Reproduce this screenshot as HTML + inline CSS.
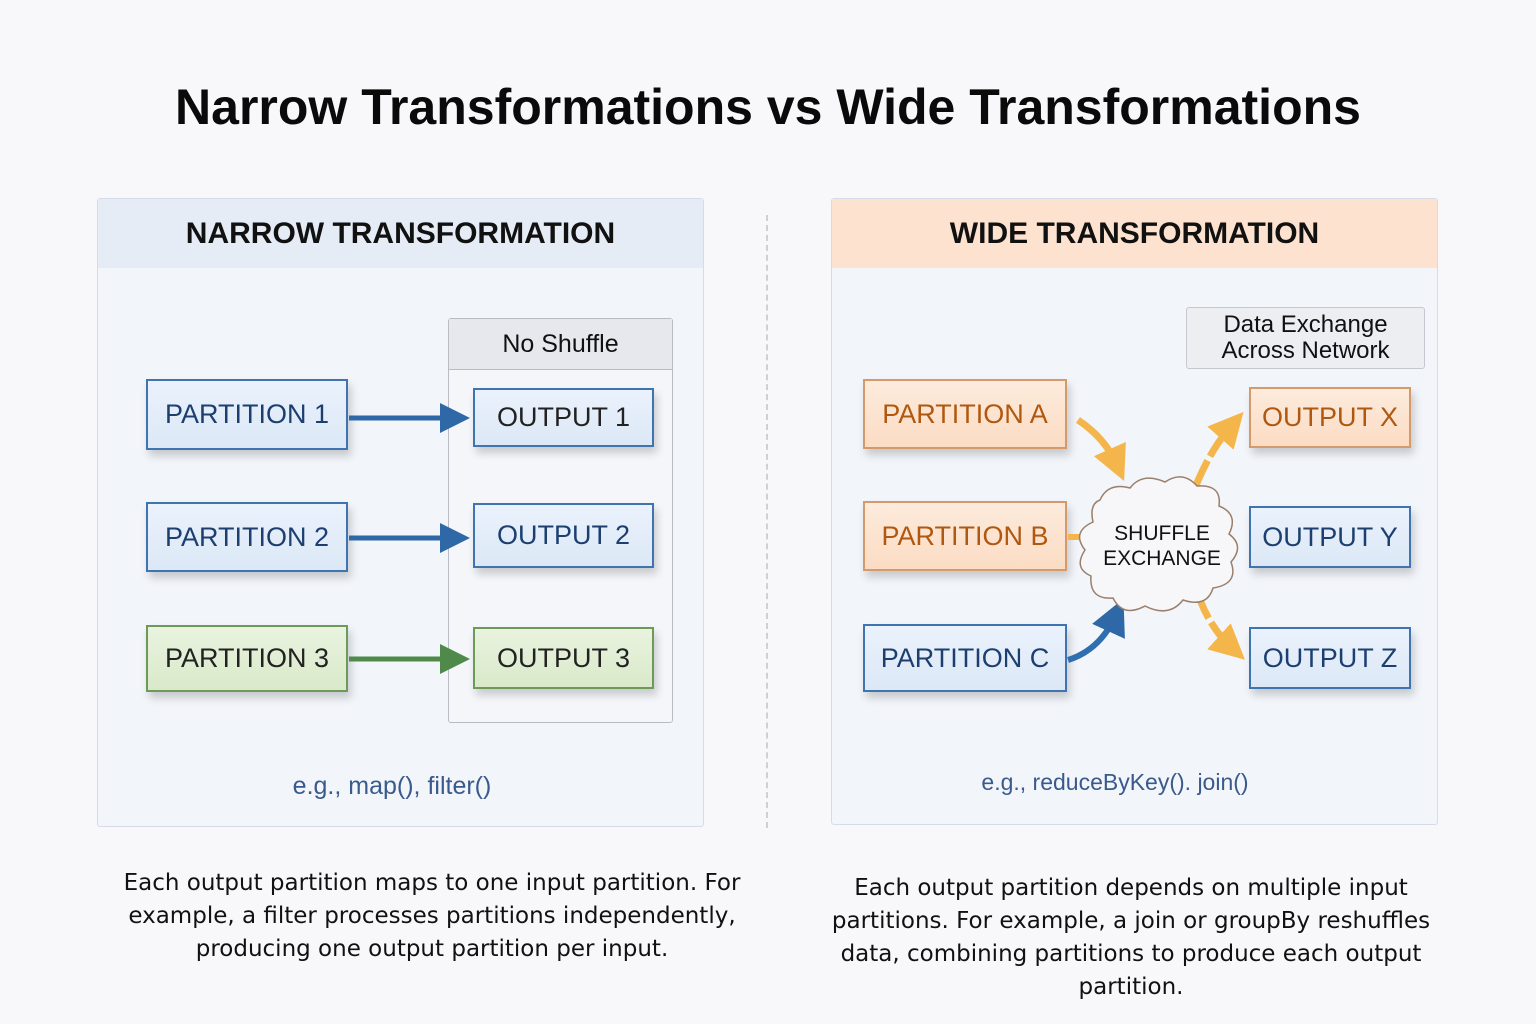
<!DOCTYPE html>
<html><head><meta charset="utf-8"><style>
*{margin:0;padding:0;box-sizing:border-box}
body{width:1536px;height:1024px;background:#f8f8fa;font-family:"Liberation Sans","DejaVu Sans",sans-serif;position:relative;overflow:hidden}
.a{position:absolute}
.t{position:absolute;display:flex;align-items:center;justify-content:center;text-align:center}
.box{position:absolute;display:flex;align-items:center;justify-content:center;font-size:27px;box-shadow:3px 6px 8px rgba(0,0,0,.18)}
.blue{background:linear-gradient(#eaf2fc,#dce8f6);border:2px solid #3f74b0;color:#1c3f70}
.green{background:linear-gradient(#e9f3df,#d9e9c9);border:2px solid #6c9a58;color:#222}
.org{background:linear-gradient(#fdebdc,#fbdcc4);border:2px solid #d49a6c;color:#b0580f}
.cap{font-family:"DejaVu Sans",sans-serif;font-size:23px;color:#111;line-height:33px;text-align:center;position:absolute;white-space:nowrap}
</style></head><body>
<div class="t" style="left:0;width:1536px;top:75px;height:64px;font-size:50px;font-weight:bold;color:#0a0a0a">Narrow Transformations vs Wide Transformations</div>

<div class="a" style="left:97px;top:198px;width:607px;height:629px;background:#f2f5fa;border:1px solid #d5dce8;border-radius:3px"></div>
<div class="t" style="left:98px;top:199px;width:605px;height:69px;background:#e5ecf6;font-size:30px;font-weight:bold;color:#111">NARROW TRANSFORMATION</div>

<div class="a" style="left:831px;top:198px;width:607px;height:627px;background:#f2f5fa;border:1px solid #d5dce8;border-radius:3px"></div>
<div class="t" style="left:832px;top:199px;width:605px;height:69px;background:#fde2cf;font-size:30px;font-weight:bold;color:#111">WIDE TRANSFORMATION</div>

<div class="a" style="left:766px;top:215px;height:613px;border-left:2px dashed #cfcfd4"></div>

<div class="a" style="left:448px;top:318px;width:225px;height:405px;border:1.5px solid #b9bcc4;border-radius:3px;background:#f4f6fa"></div>
<div class="t" style="left:449px;top:319px;width:223px;height:51px;background:#e6e8ee;border-bottom:1.5px solid #b9bcc4;font-size:25px;color:#111">No Shuffle</div>

<div class="box blue" style="left:146px;top:379px;width:202px;height:71px">PARTITION 1</div>
<div class="box blue" style="left:146px;top:502px;width:202px;height:70px">PARTITION 2</div>
<div class="box green" style="left:146px;top:625px;width:202px;height:67px">PARTITION 3</div>
<div class="box blue" style="left:473px;top:388px;width:181px;height:59px;color:#222">OUTPUT 1</div>
<div class="box blue" style="left:473px;top:503px;width:181px;height:65px">OUTPUT 2</div>
<div class="box green" style="left:473px;top:627px;width:181px;height:62px">OUTPUT 3</div>
<div class="t" style="left:192px;width:400px;top:768px;height:36px;font-size:25px;color:#3a5a8c">e.g., map(), filter()</div>

<div class="t" style="left:1186px;top:307px;width:239px;height:62px;background:#eceef2;border:1.5px solid #c5c8d0;border-radius:3px;font-size:24px;line-height:26px;color:#111">Data Exchange<br>Across Network</div>
<div class="box org" style="left:863px;top:379px;width:204px;height:70px">PARTITION A</div>
<div class="box org" style="left:863px;top:501px;width:204px;height:70px">PARTITION B</div>
<div class="box blue" style="left:863px;top:624px;width:204px;height:68px">PARTITION C</div>
<div class="box org" style="left:1249px;top:387px;width:162px;height:61px">OUTPUT X</div>
<div class="box blue" style="left:1249px;top:506px;width:162px;height:62px">OUTPUT Y</div>
<div class="box blue" style="left:1249px;top:627px;width:162px;height:62px">OUTPUT Z</div>
<div class="t" style="left:915px;width:400px;top:764px;height:36px;font-size:23px;color:#3a5a8c">e.g., reduceByKey(). join()</div>

<svg class="a" style="left:0;top:0" width="1536" height="1024">
<defs>
<marker id="mb" markerWidth="6" markerHeight="6" refX="3" refY="3" orient="auto" markerUnits="strokeWidth"><path d="M0,0L6,3L0,6z" fill="#2f68a6"/></marker>
<marker id="mg" markerWidth="6" markerHeight="6" refX="3" refY="3" orient="auto" markerUnits="strokeWidth"><path d="M0,0L6,3L0,6z" fill="#4f8a4a"/></marker>
<marker id="mo" markerWidth="5" markerHeight="5" refX="2.5" refY="2.5" orient="auto" markerUnits="strokeWidth"><path d="M0,0L5,2.5L0,5z" fill="#f4b54a"/></marker>
</defs>
<line x1="349" y1="418" x2="455" y2="418" stroke="#2f68a6" stroke-width="5" marker-end="url(#mb)"/>
<line x1="349" y1="538" x2="455" y2="538" stroke="#2f68a6" stroke-width="5" marker-end="url(#mb)"/>
<line x1="349" y1="659" x2="455" y2="659" stroke="#4f8a4a" stroke-width="5" marker-end="url(#mg)"/>
<path d="M1078,420 Q1105,438 1117,465" stroke="#f4b54a" stroke-width="7" fill="none" marker-end="url(#mo)"/>
<path d="M1068,537 L1090,537" stroke="#f4b54a" stroke-width="6"/>
<path d="M1068,660 Q1100,650 1116,615" stroke="#2f6fb0" stroke-width="6" fill="none" marker-end="url(#mb)"/>
<path d="M1195,488 Q1210,450 1232,425" stroke="#f4b54a" stroke-width="7" fill="none" stroke-dasharray="30 5" marker-end="url(#mo)"/>
<path d="M1200,600 Q1212,630 1232,648" stroke="#f4b54a" stroke-width="7" fill="none" stroke-dasharray="20 5" marker-end="url(#mo)"/>
<path d="M1100,500 q8,-18 30,-12 q12,-16 35,-6 q18,-12 32,4 q25,-2 22,20 q20,8 10,28 q16,12 2,28 q8,22 -18,26 q-6,20 -30,12 q-14,18 -38,6 q-22,12 -32,-8 q-24,2 -22,-22 q-18,-8 -6,-26 q-14,-18 8,-28 q-4,-18 7,-22z" fill="#f7f7f9" stroke="#9b7f6a" stroke-width="1.5"/>
<text x="1162" y="540" text-anchor="middle" font-size="21" fill="#111" font-family="Liberation Sans,sans-serif">SHUFFLE</text>
<text x="1162" y="565" text-anchor="middle" font-size="21" fill="#111" font-family="Liberation Sans,sans-serif">EXCHANGE</text>
</svg>

<div class="cap" style="left:32px;width:800px;top:867px">Each output partition maps to one input partition. For<br>example, a filter processes partitions independently,<br>producing one output partition per input.</div>
<div class="cap" style="left:731px;width:800px;top:872px">Each output partition depends on multiple input<br>partitions. For example, a join or groupBy reshuffles<br>data, combining partitions to produce each output<br>partition.</div>
</body></html>
